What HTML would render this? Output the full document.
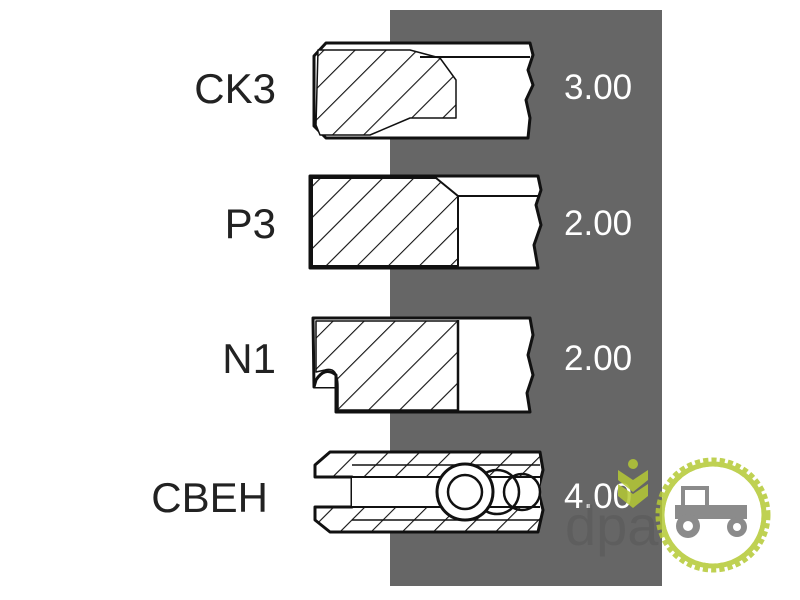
<!DOCTYPE html>
<html><head><style>
html,body{margin:0;padding:0;background:#fff;}
svg{display:block}
</style></head><body>
<svg width="800" height="600" viewBox="0 0 800 600" xmlns="http://www.w3.org/2000/svg">
<defs>
<pattern id="h" patternUnits="userSpaceOnUse" width="22" height="22" patternTransform="rotate(45)">
<rect width="22" height="22" fill="#fff"/>
<line x1="0" y1="0" x2="0" y2="22" stroke="#111" stroke-width="2.2"/>
</pattern>
</defs>
<rect x="0" y="0" width="800" height="600" fill="#fff"/>
<rect x="390" y="10" width="272" height="576" fill="#666"/>

<g font-family="Liberation Sans, sans-serif" font-size="42" fill="#222" text-anchor="end">
<text x="276" y="103">CK3</text>
<text x="276" y="238">P3</text>
<text x="276" y="373">N1</text>
<text x="268" y="512">CBEH</text>
</g>
<g font-family="Liberation Sans, sans-serif" font-size="35" fill="#fff">
<text x="564" y="99">3.00</text>
<text x="564" y="235">2.00</text>
<text x="564" y="370">2.00</text>
<text x="564" y="508">4.00</text>
</g>

<g stroke="#111" stroke-width="3" stroke-linejoin="round">
<!-- CK3 -->
<path d="M326,43 L530,43 L533,55 L528,70 L533,85 L526,100 L530,118 L528,138 L326,138 L314,126 L314,56 Z" fill="#fff"/>
<path d="M318,50 L410,50 L440,58 L456,80 L456,118 L410,118 L370,135 L320,135 L316,125 Z" fill="url(#h)" stroke-width="1.5"/>
<line x1="420" y1="57" x2="530" y2="57" stroke-width="2"/>
<!-- P3 -->
<path d="M310,176 L538,176 L541,190 L536,205 L541,225 L534,245 L538,268 L310,268 Z" fill="#fff"/>
<path d="M312,178 L436,178 L458,196 L458,266 L312,266 Z" fill="url(#h)" stroke-width="2"/>
<line x1="458" y1="196" x2="540" y2="196" stroke-width="2"/>
<!-- N1 -->
<path d="M313,318 L530,318 L533,335 L528,355 L533,375 L527,393 L530,412 L336,412 L336,387 L314,387 Z" fill="#fff"/>
<path d="M316,321 L458,321 L458,410 L338,410 L338,387 Q338,366 325,370 L316,372 Z" fill="url(#h)" stroke-width="1.5"/>
<path d="M314,387 L316,380 Q325,366 336,375 L336,387" fill="#fff"/>
<line x1="458" y1="320" x2="458" y2="411" stroke-width="2.5"/>
<!-- CBEH -->
<path d="M330,452 L540,452 L543,470 L538,490 L543,510 L538,532 L330,532 L315,520 L315,507 L352,507 L352,477 L315,477 L315,465 Z" fill="url(#h)"/>
<rect x="352" y="477" width="188" height="30" fill="#fff" stroke="none"/>
<line x1="352" y1="477" x2="540" y2="477" stroke-width="2"/>
<line x1="352" y1="507" x2="540" y2="507" stroke-width="2"/>
<line x1="352" y1="465" x2="540" y2="465" stroke-width="1.5"/>
<line x1="352" y1="520" x2="540" y2="520" stroke-width="1.5"/>
<circle cx="522" cy="492" r="18" fill="none" stroke-width="2.5"/>
<circle cx="497" cy="492" r="22" fill="none" stroke-width="2.5"/>
<circle cx="465" cy="492" r="28" fill="#fff" stroke-width="3"/>
<circle cx="465" cy="492" r="17" fill="#fff" stroke-width="2.5"/>
</g>

<!-- logo -->
<g opacity="0.85">
<text x="565" y="545" font-family="Liberation Sans, sans-serif" font-size="56" fill="#555" opacity="0.5">dpa</text>
<circle cx="713" cy="515" r="53" fill="#fff" stroke="#b5c935" stroke-width="9" stroke-dasharray="5 3"/>
<circle cx="713" cy="515" r="51" fill="none" stroke="#b5c935" stroke-width="5"/>
<g fill="#777">
<rect x="683" y="488" width="24" height="20" fill="none" stroke="#777" stroke-width="4"/>
<rect x="675" y="505" width="72" height="14"/>
<circle cx="688" cy="526" r="12"/><circle cx="737" cy="527" r="10"/>
</g>
<circle cx="688" cy="526" r="5" fill="#fff"/><circle cx="737" cy="527" r="4" fill="#fff"/>
<path d="M618,470 L633,480 L648,470 L648,480 L633,492 L618,480 Z M618,484 L633,494 L648,484 L648,496 L633,508 L618,496 Z" fill="#b5c935"/>
<circle cx="633" cy="464" r="5" fill="#b5c935"/>
</g>
</svg>
</body></html>
